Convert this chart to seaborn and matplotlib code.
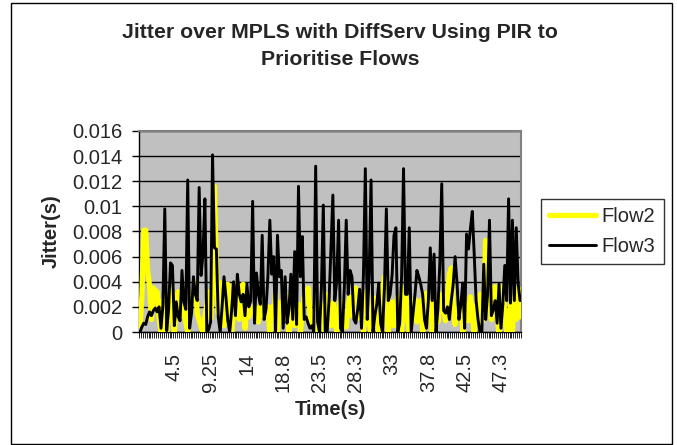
import pandas as pd
import matplotlib
matplotlib.use("Agg")
import matplotlib.pyplot as plt
import seaborn as sns
from matplotlib.patches import Rectangle

# Jitter per sample (s), one sample every 0.25 s
flow2 = [
    0.0003, 0.0028, 0.0081, 0.0081, 0.0049, 0.0037, 0.0010, 0.0035, 0.0033, 0.0032,
    0.0012, 0.0000, 0.0025, 0.0008, 0.0000, 0.0018, 0.0034, 0.0012, 0.0000, 0.0022,
    0.0032, 0.0018, 0.0013, 0.0020, 0.0008, 0.0000, 0.0022, 0.0028, 0.0030, 0.0040,
    0.0014, 0.0010, 0.0004, 0.0000, 0.0012, 0.0022, 0.0032, 0.0011, 0.0035, 0.0116,
    0.0050, 0.0015, 0.0039, 0.0012, 0.0005, 0.0020, 0.0038, 0.0024, 0.0000, 0.0015,
    0.0038, 0.0020, 0.0010, 0.0016, 0.0038, 0.0003, 0.0025, 0.0012, 0.0016, 0.0020,
    0.0020, 0.0018, 0.0008, 0.0020, 0.0028, 0.0012, 0.0015, 0.0020, 0.0000, 0.0020,
    0.0012, 0.0030, 0.0000, 0.0018, 0.0024, 0.0013, 0.0017, 0.0030, 0.0000, 0.0012,
    0.0020, 0.0005, 0.0018, 0.0022, 0.0000, 0.0016, 0.0028, 0.0024, 0.0035, 0.0015,
    0.0004, 0.0012, 0.0020, 0.0000, 0.0014, 0.0022, 0.0008, 0.0000, 0.0030, 0.0017,
    0.0005, 0.0023, 0.0012, 0.0000, 0.0019, 0.0025, 0.0008, 0.0016, 0.0004, 0.0022,
    0.0028, 0.0013, 0.0021, 0.0035, 0.0020, 0.0011, 0.0025, 0.0000, 0.0015, 0.0033,
    0.0008, 0.0000, 0.0018, 0.0027, 0.0012, 0.0000, 0.0026, 0.0031, 0.0044, 0.0018,
    0.0000, 0.0013, 0.0024, 0.0005, 0.0017, 0.0028, 0.0010, 0.0000, 0.0022, 0.0036,
    0.0012, 0.0000, 0.0020, 0.0014, 0.0026, 0.0008, 0.0016, 0.0025, 0.0000, 0.0018,
    0.0031, 0.0011, 0.0024, 0.0000, 0.0015, 0.0026, 0.0008, 0.0019, 0.0030, 0.0021,
    0.0009, 0.0028, 0.0046, 0.0051, 0.0022, 0.0006, 0.0019, 0.0012, 0.0024, 0.0000,
    0.0015, 0.0022, 0.0009, 0.0028, 0.0013, 0.0000, 0.0021, 0.0017, 0.0030, 0.0008,
    0.0019, 0.0073, 0.0068, 0.0025, 0.0010, 0.0035, 0.0036, 0.0012, 0.0000, 0.0021,
    0.0036, 0.0015, 0.0000, 0.0008, 0.0022, 0.0000, 0.0028, 0.0010, 0.0035, 0.0012,
]

flow3 = [
    0.0000, 0.0004, 0.0007, 0.0006, 0.0012, 0.0016, 0.0013, 0.0017, 0.0019, 0.0016,
    0.0020, 0.0003, 0.0021, 0.0098, 0.0001, 0.0018, 0.0055, 0.0053, 0.0005, 0.0024,
    0.0012, 0.0009, 0.0049, 0.0024, 0.0018, 0.0121, 0.0003, 0.0015, 0.0044, 0.0030,
    0.0025, 0.0115, 0.0045, 0.0062, 0.0106, 0.0000, 0.0002, 0.0008, 0.0141, 0.0067,
    0.0066, 0.0012, 0.0000, 0.0020, 0.0044, 0.0028, 0.0009, 0.0000, 0.0017, 0.0040,
    0.0013, 0.0046, 0.0030, 0.0024, 0.0030, 0.0013, 0.0038, 0.0020, 0.0025, 0.0104,
    0.0007, 0.0047, 0.0030, 0.0022, 0.0077, 0.0010, 0.0018, 0.0045, 0.0089, 0.0046,
    0.0060, 0.0000, 0.0077, 0.0044, 0.0049, 0.0003, 0.0044, 0.0007, 0.0018, 0.0046,
    0.0010, 0.0064, 0.0006, 0.0116, 0.0044, 0.0076, 0.0010, 0.0012, 0.0007, 0.0003,
    0.0005, 0.0000, 0.0132, 0.0008, 0.0000, 0.0035, 0.0101, 0.0000, 0.0000, 0.0025,
    0.0068, 0.0109, 0.0025, 0.0040, 0.0089, 0.0003, 0.0000, 0.0035, 0.0089, 0.0030,
    0.0049, 0.0044, 0.0010, 0.0007, 0.0018, 0.0034, 0.0003, 0.0045, 0.0130, 0.0010,
    0.0045, 0.0121, 0.0000, 0.0013, 0.0022, 0.0039, 0.0007, 0.0000, 0.0035, 0.0098,
    0.0025, 0.0030, 0.0045, 0.0077, 0.0083, 0.0000, 0.0007, 0.0045, 0.0130, 0.0030,
    0.0030, 0.0083, 0.0000, 0.0015, 0.0030, 0.0049, 0.0044, 0.0038, 0.0030, 0.0010,
    0.0003, 0.0025, 0.0067, 0.0025, 0.0062, 0.0000, 0.0018, 0.0055, 0.0118, 0.0017,
    0.0015, 0.0020, 0.0010, 0.0025, 0.0038, 0.0060, 0.0039, 0.0010, 0.0022, 0.0039,
    0.0003, 0.0078, 0.0066, 0.0082, 0.0096, 0.0062, 0.0025, 0.0010, 0.0000, 0.0000,
    0.0054, 0.0010, 0.0030, 0.0089, 0.0013, 0.0018, 0.0025, 0.0007, 0.0038, 0.0003,
    0.0022, 0.0053, 0.0025, 0.0106, 0.0023, 0.0089, 0.0025, 0.0083, 0.0039, 0.0025,
]

# category axis labels (Excel shows every 19th sample)
tick_pos = [18, 37, 56, 75, 94, 113, 132, 151, 170, 189]
tick_labels = ["4.5", "9.25", "14", "18.8", "23.5", "28.3", "33", "37.8", "42.5", "47.3"]
y_ticks = [0, 0.002, 0.004, 0.006, 0.008, 0.01, 0.012, 0.014, 0.016]

df = pd.DataFrame({"Sample": range(len(flow2)), "Flow2": flow2, "Flow3": flow3})

sns.set_style("white")
plt.rcParams["font.family"] = ["Liberation Sans", "DejaVu Sans"]

W, H = 677, 445
fig = plt.figure(figsize=(W / 100, H / 100), dpi=100)
ax = fig.add_axes([139 / W, 1 - 332 / H, (521 - 139) / W, (332 - 131) / H])
ax.set_facecolor("#c0c0c0")

sns.lineplot(data=df, x="Sample", y="Flow2", color="#ffff00", linewidth=3.8,
             label="Flow2", ax=ax, zorder=3)
sns.lineplot(data=df, x="Sample", y="Flow3", color="black", linewidth=2.1,
             label="Flow3", ax=ax, zorder=4)

ax.set_xlim(-0.5, len(flow2) - 0.5)
ax.set_ylim(0, 0.016)

# gridlines
ax.set_yticks(y_ticks)
ax.set_yticklabels([f"{v:g}" for v in y_ticks], fontsize=14.5)
ax.yaxis.grid(True, color="black", linewidth=1)
ax.xaxis.grid(False)
ax.set_axisbelow(True)
ax.tick_params(axis="y", direction="out", length=5, width=1, color="black",
               left=True, pad=7)

ax.set_xticks(tick_pos)
ax.set_xticklabels(tick_labels, rotation=90, fontsize=14.5)
ax.set_xticks([i - 0.5 for i in range(len(flow2) + 1)], minor=True)
ax.tick_params(axis="x", which="major", length=0, pad=15)
ax.tick_params(axis="x", which="minor", direction="out", length=4, width=0.6,
               color="black", bottom=True)

for side in ["top", "right"]:
    ax.spines[side].set_color("#808080")
    ax.spines[side].set_linewidth(1.5)
for side in ["left", "bottom"]:
    ax.spines[side].set_color("black")
    ax.spines[side].set_linewidth(1)

ax.set_xlabel("Time(s)", fontsize=14.5, fontweight="bold")
ax.xaxis.set_label_coords(0.5, -0.34)
ax.set_ylabel("Jitter(s)", fontsize=14.5, fontweight="bold")
ax.yaxis.set_label_coords(-0.205, 0.5)

ax.get_legend().remove()
handles, labels = ax.get_legend_handles_labels()
leg = fig.legend(handles, labels, loc="center", bbox_to_anchor=(602.5 / W, 1 - 231.5 / H),
                 fontsize=14.5, frameon=True, fancybox=False, edgecolor="black",
                 handlelength=2.3, handletextpad=0.3, labelspacing=0.55,
                 borderpad=0.42, borderaxespad=0)
leg.get_frame().set_linewidth(1)

fig.text(340 / W, 1 - 46 / H, "Jitter over MPLS with DiffServ Using PIR to\nPrioritise Flows",
         ha="center", va="center", fontsize=15.3, fontweight="bold", linespacing=1.5)

fig.patches.append(Rectangle((11 / W, 1.5 / H), (672 - 11) / W, (442 - 1.5) / H,
                             transform=fig.transFigure, fill=False,
                             edgecolor="black", linewidth=1))

plt.savefig("out.png", dpi=100)
